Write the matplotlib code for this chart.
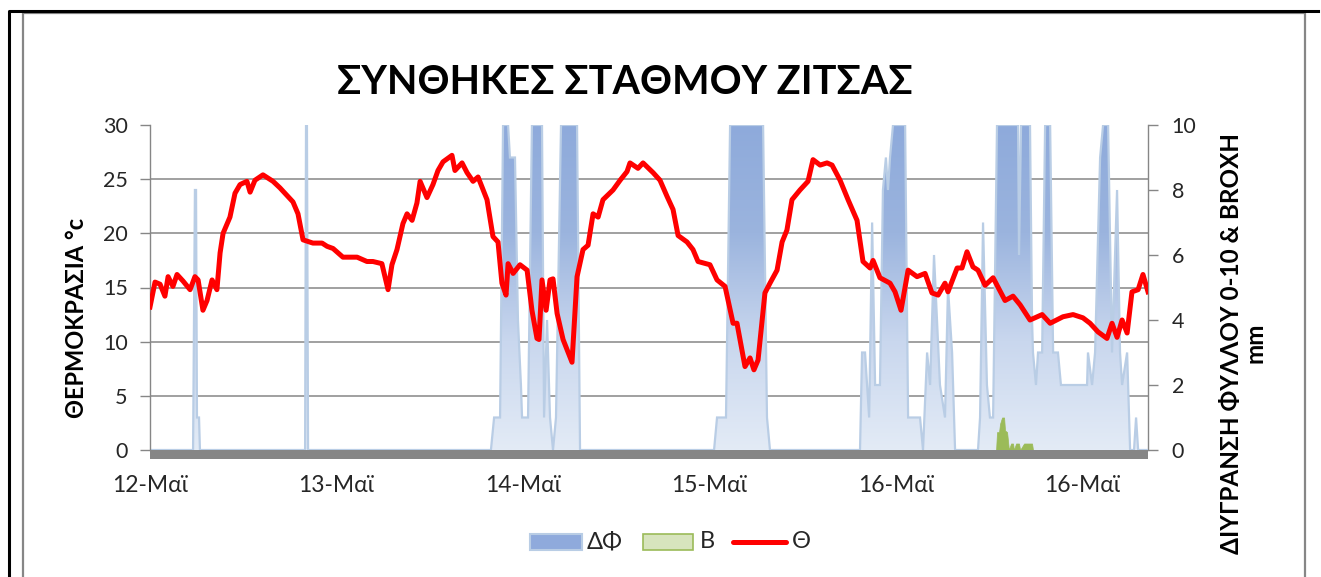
import numpy as np
import matplotlib
matplotlib.use("Agg")
import matplotlib.pyplot as plt
from matplotlib.colors import LinearSegmentedColormap
from matplotlib.patches import Rectangle
from matplotlib.lines import Line2D

plt.rcParams['font.family'] = ['Lato', 'DejaVu Sans']

# ---------------- data (x in days from 12-May 00:00) ----------------
temp_days = [0.000, 0.027, 0.054, 0.080, 0.097, 0.123, 0.145, 0.177, 0.215, 0.241,
             0.258, 0.284, 0.306, 0.333, 0.359, 0.376, 0.392, 0.429, 0.456, 0.483,
             0.520, 0.537, 0.563, 0.606, 0.633, 0.660, 0.697, 0.735, 0.767, 0.794,
             0.821, 0.874, 0.923, 0.950, 0.982, 1.035, 1.111, 1.164, 1.196, 1.244,
             1.277, 1.298, 1.325, 1.357, 1.379, 1.406, 1.432, 1.449, 1.486, 1.518,
             1.545, 1.572, 1.620, 1.636, 1.674, 1.701, 1.733, 1.760, 1.808, 1.840,
             1.867, 1.888, 1.910, 1.921, 1.948, 1.985, 2.023, 2.049, 2.076, 2.087,
             2.103, 2.125, 2.146, 2.162, 2.184, 2.216, 2.264, 2.291, 2.323, 2.350,
             2.377, 2.404, 2.430, 2.484, 2.522, 2.559, 2.575, 2.618, 2.645, 2.699,
             2.736, 2.774, 2.806, 2.833, 2.881, 2.913, 2.940, 3.004, 3.042, 3.085,
             3.128, 3.149, 3.192, 3.219, 3.240, 3.262, 3.299, 3.326, 3.364, 3.391,
             3.417, 3.444, 3.487, 3.530, 3.557, 3.595, 3.632, 3.659, 3.702, 3.745,
             3.793, 3.825, 3.863, 3.879, 3.916, 3.970, 3.997, 4.029, 4.067, 4.115,
             4.158, 4.195, 4.228, 4.265, 4.281, 4.330, 4.356, 4.383, 4.415, 4.442,
             4.480, 4.523, 4.587, 4.630, 4.668, 4.721, 4.786, 4.829, 4.898, 4.952,
             5.005, 5.043, 5.086, 5.134, 5.161, 5.188, 5.215, 5.242, 5.268, 5.301,
             5.327, 5.354]
temperature = [13.2, 15.5, 15.3, 14.2, 16.0, 15.1, 16.2, 15.6, 14.8, 16.0,
               15.7, 12.9, 13.8, 15.7, 14.8, 18.2, 20.0, 21.5, 23.7, 24.5,
               24.8, 23.8, 24.9, 25.4, 25.1, 24.8, 24.2, 23.5, 22.9, 21.8,
               19.4, 19.1, 19.1, 18.8, 18.6, 17.8, 17.8, 17.4, 17.4, 17.2,
               14.8, 17.1, 18.5, 20.9, 21.8, 21.2, 22.8, 24.8, 23.3, 24.5,
               25.8, 26.6, 27.2, 25.8, 26.5, 25.6, 24.8, 25.2, 23.1, 19.7,
               19.2, 15.4, 14.3, 17.2, 16.3, 17.1, 16.6, 12.9, 10.3, 10.2,
               15.7, 12.9, 15.7, 15.8, 12.6, 10.2, 8.1, 16.0, 18.5, 18.9,
               21.8, 21.5, 23.1, 24.0, 24.9, 25.7, 26.5, 26.0, 26.5, 25.6,
               24.9, 23.4, 22.2, 19.8, 19.2, 18.5, 17.4, 17.1, 15.7, 15.1,
               11.7, 11.7, 7.7, 8.5, 7.4, 8.3, 14.5, 15.4, 16.6, 19.2,
               20.3, 23.1, 24.0, 24.8, 26.8, 26.3, 26.5, 26.3, 24.9, 23.1,
               21.2, 17.4, 16.8, 17.5, 15.9, 15.4, 14.6, 12.9, 16.6, 16.0,
               16.3, 14.5, 14.3, 15.4, 14.6, 16.8, 16.8, 18.3, 16.9, 16.6,
               15.2, 15.9, 13.8, 14.2, 13.4, 12.0, 12.5, 11.7, 12.3, 12.5,
               12.2, 11.7, 10.9, 10.3, 11.7, 10.4, 12.0, 10.8, 14.6, 14.8,
               16.2, 14.6]

wet_days = [0.000, 0.231, 0.241, 0.247, 0.252, 0.263, 0.268, 0.832, 0.837, 0.842,
            0.848, 1.829, 1.846, 1.878, 1.894, 1.921, 1.931, 1.958, 1.974, 1.990,
            1.996, 2.028, 2.049, 2.103, 2.114, 2.130, 2.146, 2.162, 2.178, 2.205,
            2.291, 2.307, 3.026, 3.042, 3.090, 3.112, 3.289, 3.310, 3.326, 3.809,
            3.820, 3.836, 3.858, 3.874, 3.890, 3.916, 3.932, 3.948, 3.959, 3.970,
            3.986, 4.051, 4.067, 4.131, 4.147, 4.169, 4.185, 4.206, 4.222, 4.238,
            4.265, 4.281, 4.303, 4.319, 4.442, 4.453, 4.469, 4.490, 4.506, 4.523,
            4.544, 4.657, 4.662, 4.673, 4.721, 4.732, 4.737, 4.753, 4.764, 4.786,
            4.802, 4.829, 4.845, 4.871, 4.887, 5.027, 5.032, 5.054, 5.070, 5.097,
            5.113, 5.140, 5.161, 5.188, 5.204, 5.215, 5.242, 5.258, 5.279, 5.290,
            5.301, 5.354]
leaf_wetness = [0, 0, 8, 8, 1, 1, 0, 0, 10, 10,
                0, 0, 1, 1, 10, 10, 9, 9, 4, 2,
                1, 1, 10, 10, 1, 4, 1, 0, 1, 10,
                10, 0, 0, 1, 1, 10, 10, 1, 0, 0,
                3, 3, 1, 7, 2, 2, 8, 9, 8, 9,
                10, 10, 1, 1, 0, 3, 2, 6, 4, 2,
                1, 5, 3, 0, 0, 1, 7, 2, 1, 1,
                10, 10, 6, 10, 10, 4, 3, 2, 3, 3,
                10, 10, 3, 3, 2, 2, 3, 2, 3, 9,
                10, 10, 3, 8, 3, 2, 3, 0, 0, 1,
                0, 0]

rain_days = [4.539, 4.544, 4.555, 4.560, 4.571, 4.582, 4.587, 4.598, 4.608, 4.619,
             4.630, 4.635, 4.646, 4.662, 4.668, 4.689, 4.732, 4.737]
rain = [0, 0.55, 0.55, 0.8, 1.0, 1.0, 0.6, 0.55, 0, 0.2,
        0.2, 0, 0.2, 0.2, 0, 0.2, 0.2, 0]

tick_labels = ['12-Μαϊ', '13-Μαϊ', '14-Μαϊ', '15-Μαϊ', '16-Μαϊ', '16-Μαϊ']
temp_ticks = [0, 5, 10, 15, 20, 25, 30]
right_ticks = [0, 2, 4, 6, 8, 10]

title = 'ΣΥΝΘΗΚΕΣ ΣΤΑΘΜΟΥ ΖΙΤΣΑΣ'
left_label = 'ΘΕΡΜΟΚΡΑΣΙΑ °c'
right_label = 'ΔΙΥΓΡΑΝΣΗ ΦΥΛΛΟΥ 0-10 & BROXH\nmm'
legend_names = ['ΔΦ', 'B', 'Θ']

# ---------------- figure ----------------
W, H = 1321, 577
fig = plt.figure(figsize=(W / 100, H / 100), dpi=100)
fig.patch.set_facecolor('white')

def fx(px):
    return px / W

def fy(py):
    return 1 - py / H

GRAY = '#868686'
TXT = '#262626'
ax = fig.add_axes([fx(150), fy(450), (1148 - 150) / W, (450 - 125) / H])
ax2 = ax.twinx()
ax.set_zorder(3)
ax2.set_zorder(2)
ax.patch.set_visible(False)

xmax = temp_days[-1]
ax.set_xlim(0, xmax)
ax.set_ylim(temp_ticks[0], temp_ticks[-1])
ax2.set_ylim(right_ticks[0], right_ticks[-1])
scale = right_ticks[-1] / temp_ticks[-1]

# gridlines (drawn on the back axes, at temperature tick positions)
ax2.set_yticks(np.array(temp_ticks) * scale, minor=True)
ax2.yaxis.grid(True, which='minor', color=GRAY, lw=1.1)
ax2.set_axisbelow(True)
ax2.tick_params(axis='y', which='minor', length=0)

# leaf wetness area with vertical gradient
wx = np.array(wet_days)
wy = np.array(leaf_wetness, dtype=float)
poly = ax2.fill_between(wx, wy, 0, facecolor='none', edgecolor='none', zorder=2)
grad = np.linspace(0, 1, 256).reshape(-1, 1)
cmap = LinearSegmentedColormap.from_list('wet', ['#e3ebf6', '#c9d7ee', '#9bb4de', '#8eaadb'])
im = ax2.imshow(grad, extent=[0, xmax, right_ticks[0], right_ticks[-1]], origin='lower',
                aspect='auto', cmap=cmap, zorder=2, interpolation='bilinear')
im.set_clip_path(poly.get_paths()[0], ax2.transData)
ax2.plot(wx, wy, color='#b9cde5', lw=1.6, zorder=3, solid_joinstyle='miter')

# rain
ax2.fill_between(rain_days, rain, 0, facecolor='#9bbb59', edgecolor='#9bbb59', lw=0.5, zorder=4)

# temperature
ax.plot(temp_days, temperature, color='#ff0000', lw=3.6, zorder=5, solid_joinstyle='round')

# axes styling
for a in (ax, ax2):
    for s in a.spines.values():
        s.set_visible(False)
ax.spines['left'].set_visible(True)
ax.spines['left'].set_color(GRAY)
ax.spines['left'].set_linewidth(1.0)
ax2.spines['right'].set_visible(True)
ax2.spines['right'].set_color(GRAY)
ax2.spines['right'].set_linewidth(1.0)

ax.set_yticks(temp_ticks)
ax.set_yticklabels([str(t) for t in temp_ticks])
ax.tick_params(axis='y', length=7, color=GRAY, width=1, pad=9, labelsize=15.5, labelcolor=TXT)
ax2.set_yticks(right_ticks)
ax2.set_yticklabels([str(t) for t in right_ticks])
ax2.tick_params(axis='y', which='major', length=7, color=GRAY, width=1, pad=10, labelsize=15.5,
                labelcolor=TXT)

ax.set_xticks(range(len(tick_labels)))
ax.set_xticklabels(tick_labels)
ax.tick_params(axis='x', length=0, pad=18, labelsize=16.5, labelcolor=TXT)
ax2.tick_params(axis='x', length=0, labelbottom=False)

# thick gray floor bar
ax.add_patch(Rectangle((0, -9 / 325), 1, 9 / 325, transform=ax.transAxes, clip_on=False,
                       facecolor='#868686', edgecolor='none', zorder=6))

# texts
fig.text(fx(625), fy(83), title, ha='center', va='center', fontsize=28.5, fontweight='bold')
fig.text(fx(77), fy(318), left_label, ha='center', va='center', rotation=90,
         fontsize=17, fontweight='bold')
fig.text(fx(1243), fy(343), right_label, ha='center', va='center', rotation=90,
         fontsize=17.5, fontweight='bold', multialignment='center', linespacing=1.0)

# legend (manual)
ly = fy(542)
fig.add_artist(Rectangle((fx(530), fy(550)), fx(52), 16 / H, transform=fig.transFigure,
                         facecolor='#8faadc', edgecolor='#b9cde5', lw=1.5))
fig.text(fx(587), ly, legend_names[0], ha='left', va='center', fontsize=17, color=TXT)
fig.add_artist(Rectangle((fx(643), fy(550)), fx(50), 16 / H, transform=fig.transFigure,
                         facecolor='#d7e4bd', edgecolor='#9bbb59', lw=1.2))
fig.text(fx(700), ly, legend_names[1], ha='left', va='center', fontsize=17, color=TXT)
fig.add_artist(Line2D([fx(733), fx(786)], [ly, ly], transform=fig.transFigure,
                      color='#ff0000', lw=3.6, solid_capstyle='round'))
fig.text(fx(792), ly, legend_names[2], ha='left', va='center', fontsize=17, color=TXT)

# chart border (gray) and outer black frame
fig.add_artist(Line2D([fx(23), fx(23), fx(1305), fx(1305)], [0, fy(13), fy(13), 0],
                      transform=fig.transFigure, color=GRAY, lw=1.6))
fig.add_artist(Line2D([fx(9), fx(9), fx(1318)], [0, fy(11), fy(11)],
                      transform=fig.transFigure, color='black', lw=2.2))

fig.savefig('out.png', dpi=100)
